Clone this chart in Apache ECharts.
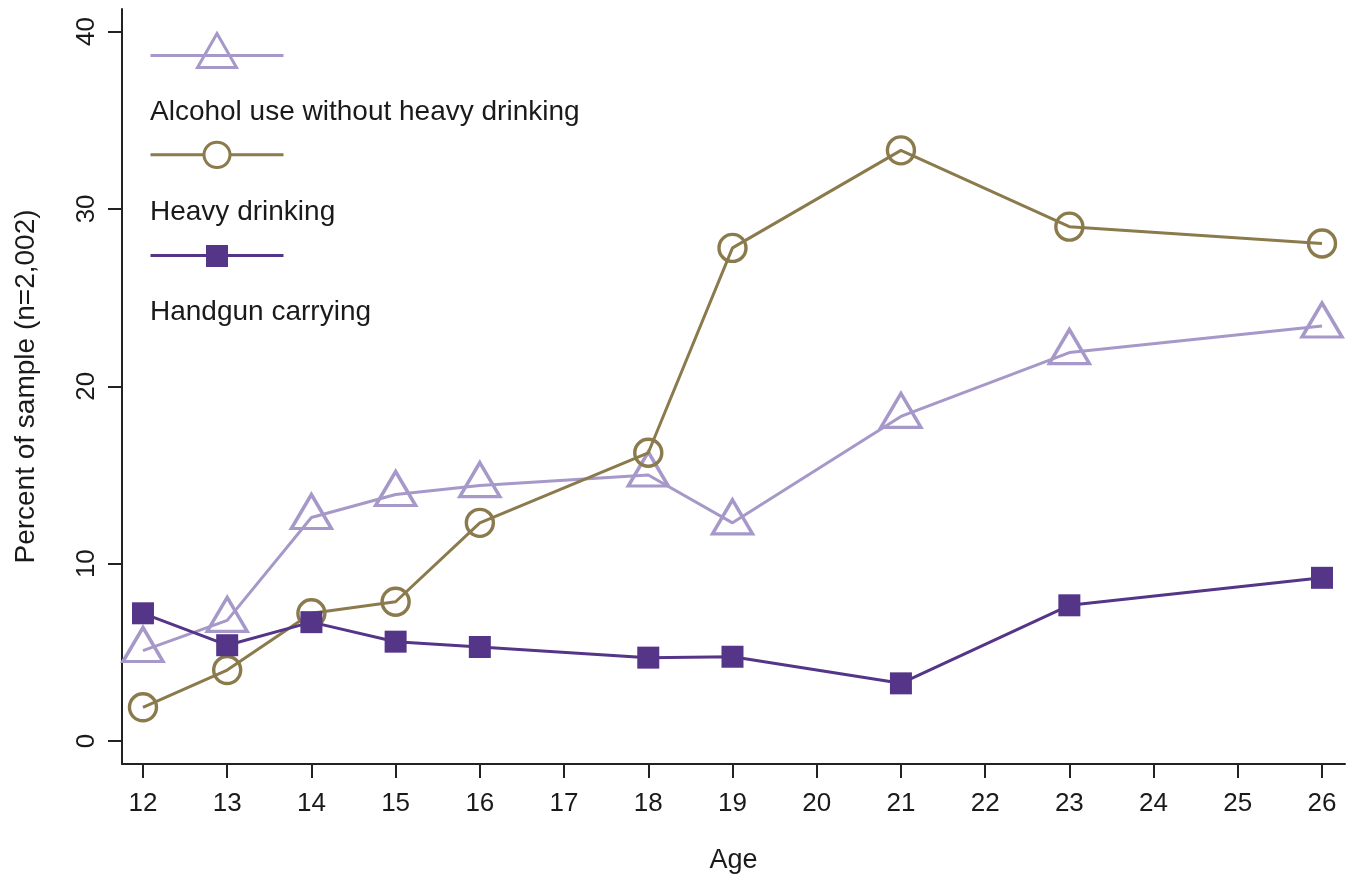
<!DOCTYPE html>
<html>
<head>
<meta charset="utf-8">
<script src="https://cdn.jsdelivr.net/npm/echarts@6/dist/echarts.min.js"></script>
<style>
html,body{margin:0;padding:0;background:#fff;}
#chart{width:1357px;height:880px;}
</style>
</head>
<body>
<div id="chart"></div>
<script>
const ages = [12, 13, 14, 15, 16, 18, 19, 21, 23, 26];
const alcoholUse = [5.1, 6.8, 12.6, 13.9, 14.4, 15.0, 12.3, 18.3, 21.9, 23.4];
const heavyDrinking = [1.9, 4.0, 7.2, 7.85, 12.3, 16.25, 27.8, 33.3, 29.0, 28.05];
const handgunCarrying = [7.2, 5.4, 6.7, 5.6, 5.3, 4.7, 4.75, 3.25, 7.65, 9.2];
const xTicks = [12, 13, 14, 15, 16, 17, 18, 19, 20, 21, 22, 23, 24, 25, 26];
const yTicks = [0, 10, 20, 30, 40];
const seriesNames = ['Alcohol use without heavy drinking', 'Heavy drinking', 'Handgun carrying'];

const C_ALC = '#a698c8';
const C_HVY = '#8a7a4c';
const C_GUN = '#553588';
const FONT = 'Liberation Sans, Arial, sans-serif';
const TXT = '#1a1a1a';

function pairs(vals) { return ages.map((a, i) => [a, vals[i]]); }

const chart = echarts.init(document.getElementById('chart'), null, {renderer: 'canvas'});

const legendLabels = seriesNames.map((n, i) => ({
  type: 'text', left: 150, top: 98 + i * 100,
  style: {text: n, fontFamily: FONT, fontSize: 28, fill: TXT}
}));

chart.setOption({
  animation: false,
  backgroundColor: '#fff',
  grid: {left: 122, right: 12, top: 9, bottom: 116, containLabel: false},
  legend: {
    orient: 'vertical', left: 149, top: 32, padding: 0,
    itemWidth: 133, itemHeight: 34, itemGap: 63,
    selectedMode: false, symbolKeepAspect: false,
    formatter: function () { return ''; },
    data: [
      {name: seriesNames[0], icon: 'path://M0 22 L133 22 M66.5 0 L86 34 L47 34 Z',
       itemStyle: {color: 'rgba(0,0,0,0)', borderColor: C_ALC, borderWidth: 3}},
      {name: seriesNames[1], icon: 'path://M66.5 0 M66.5 34 M0 22 L53.5 22 M79.5 22 L133 22 M79.5 22 A13 13 0 1 1 53.5 22 A13 13 0 1 1 79.5 22 Z',
       itemStyle: {color: 'rgba(0,0,0,0)', borderColor: C_HVY, borderWidth: 3}},
      {name: seriesNames[2], icon: 'path://M66.5 0 M66.5 34 M0 22 L133 22 M57 13 L76 13 L76 32 L57 32 Z',
       itemStyle: {color: C_GUN, borderColor: C_GUN, borderWidth: 3}}
    ]
  },
  graphic: legendLabels,
  xAxis: {
    type: 'value', min: 11.751, max: 26.273,
    name: 'Age', nameLocation: 'middle', nameGap: 83,
    nameTextStyle: {fontFamily: FONT, fontSize: 27, color: TXT},
    axisLine: {show: true, onZero: false, lineStyle: {color: '#222', width: 2}},
    axisTick: {show: true, length: 14, lineStyle: {color: '#222', width: 2}, customValues: xTicks},
    axisLabel: {fontFamily: FONT, fontSize: 26, color: TXT, margin: 27, customValues: xTicks},
    splitLine: {show: false}
  },
  yAxis: {
    type: 'value', min: -1.297, max: 41.27,
    name: 'Percent of sample (n=2,002)', nameLocation: 'middle', nameGap: 82,
    nameTextStyle: {fontFamily: FONT, fontSize: 28, color: TXT},
    axisLine: {show: true, onZero: false, lineStyle: {color: '#222', width: 2}},
    axisTick: {show: true, length: 14, lineStyle: {color: '#222', width: 2}, customValues: yTicks},
    axisLabel: {fontFamily: FONT, fontSize: 26, color: TXT, margin: 22, rotate: 90, customValues: yTicks},
    splitLine: {show: false}
  },
  series: [
    {
      name: seriesNames[0], type: 'line', data: pairs(alcoholUse),
      symbol: 'triangle', symbolSize: [40, 34], symbolOffset: [0, -6],
      itemStyle: {color: 'rgba(0,0,0,0)', borderColor: C_ALC, borderWidth: 3.4},
      lineStyle: {color: C_ALC, width: 3}, z: 2
    },
    {
      name: seriesNames[1], type: 'line', data: pairs(heavyDrinking),
      symbol: 'circle', symbolSize: 27,
      itemStyle: {color: 'rgba(0,0,0,0)', borderColor: C_HVY, borderWidth: 3.4},
      lineStyle: {color: C_HVY, width: 3}, z: 3
    },
    {
      name: seriesNames[2], type: 'line', data: pairs(handgunCarrying),
      symbol: 'rect', symbolSize: 22,
      itemStyle: {color: C_GUN, borderColor: C_GUN, borderWidth: 0},
      lineStyle: {color: C_GUN, width: 3}, z: 4
    }
  ]
});
</script>
</body>
</html>
